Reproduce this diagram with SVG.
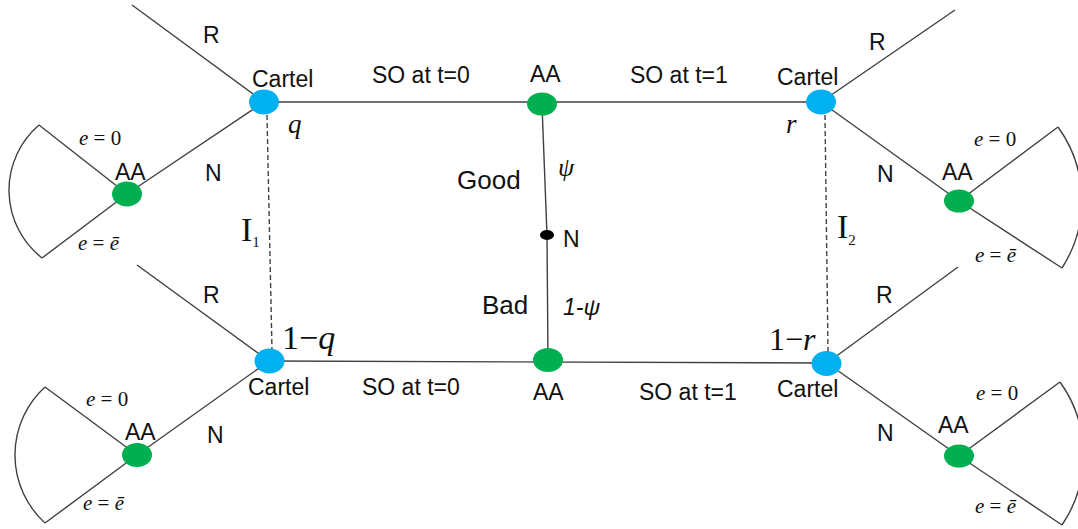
<svg xmlns="http://www.w3.org/2000/svg" width="1078" height="529" viewBox="0 0 1078 529">
<style>
.ln{stroke:#404040;stroke-width:1.4;fill:none}
.ds{stroke:#404040;stroke-width:1.4;fill:none;stroke-dasharray:5 3}
.cart{fill:#00B0F0}
.aa{fill:#00B050}
.t{font-family:"Liberation Sans",Arial,sans-serif;font-size:23px;fill:#111}
.big{font-family:"Liberation Sans",Arial,sans-serif;font-size:26px;fill:#111}
.m{font-family:"Liberation Serif","Times New Roman",serif;font-size:21px;fill:#111}
.mi{font-style:italic}
.prob{font-family:"Liberation Serif","Times New Roman",serif;font-size:34px;fill:#111}
.info{font-family:"Liberation Serif","Times New Roman",serif;font-size:34px;fill:#111}
.sub{font-size:15px}
</style>
<rect width="1078" height="529" fill="#fff"/>
<g id="connectors">
  <line class="ln" x1="264" y1="102" x2="821" y2="102"/>
  <line class="ln" x1="269" y1="361" x2="827" y2="363"/>
  <line class="ln" x1="542" y1="105" x2="547" y2="235"/>
  <line class="ln" x1="547" y1="235" x2="548" y2="360"/>
  <line class="ds" x1="267" y1="115" x2="272" y2="350"/>
  <line class="ds" x1="825" y1="115" x2="828" y2="352"/>
  <line class="ln" x1="132" y1="5" x2="264" y2="102"/>
  <line class="ln" x1="264" y1="102" x2="127" y2="194"/>
  <line class="ln" x1="127" y1="194" x2="39" y2="125"/>
  <line class="ln" x1="127" y1="194" x2="42" y2="258"/>
  <path class="ln" d="M39 125 A86 86 0 0 0 42 258"/>
  <line class="ln" x1="137" y1="265" x2="269" y2="361"/>
  <line class="ln" x1="269" y1="361" x2="137" y2="455"/>
  <line class="ln" x1="137" y1="455" x2="45" y2="387"/>
  <line class="ln" x1="137" y1="455" x2="45" y2="523"/>
  <path class="ln" d="M45 387 A92 92 0 0 0 45 523"/>
  <line class="ln" x1="955" y1="10" x2="821" y2="102"/>
  <line class="ln" x1="821" y1="102" x2="959" y2="201"/>
  <line class="ln" x1="959" y1="201" x2="1058" y2="127"/>
  <line class="ln" x1="959" y1="201" x2="1062" y2="268"/>
  <path class="ln" d="M1058 127 A125 125 0 0 1 1062 268"/>
  <line class="ln" x1="958" y1="267" x2="827" y2="363"/>
  <line class="ln" x1="827" y1="363" x2="959" y2="456"/>
  <line class="ln" x1="959" y1="456" x2="1060" y2="382"/>
  <line class="ln" x1="959" y1="456" x2="1062" y2="525"/>
  <path class="ln" d="M1060 382 A125 125 0 0 1 1062 525"/>
</g>
<g id="edge-labels">
  <text class="t" x="372" y="83">SO at t=0</text>
  <text class="t" x="630" y="83">SO at t=1</text>
  <text class="t" x="362" y="395">SO at t=0</text>
  <text class="t" x="639" y="400">SO at t=1</text>
  <text class="t" x="203" y="43">R</text>
  <text class="t" x="205" y="181">N</text>
  <text class="t" x="203" y="303">R</text>
  <text class="t" x="207" y="443">N</text>
  <text class="t" x="869" y="50">R</text>
  <text class="t" x="877" y="182">N</text>
  <text class="t" x="876" y="303">R</text>
  <text class="t" x="877" y="441">N</text>
  <text class="big" x="457" y="189">Good</text>
  <text class="big" x="482" y="314">Bad</text>
  <text class="m mi" x="558" y="176" style="font-size:26px">ψ</text>
  <text class="t mi" x="563" y="315">1-ψ</text>
  <text class="m" x="79" y="145"><tspan class="mi">e</tspan> = 0</text>
  <text class="m" x="78" y="250"><tspan class="mi">e</tspan> = <tspan class="mi">ē</tspan></text>
  <text class="m" x="86" y="406"><tspan class="mi">e</tspan> = 0</text>
  <text class="m" x="83" y="510"><tspan class="mi">e</tspan> = <tspan class="mi">ē</tspan></text>
  <text class="m" x="974" y="146"><tspan class="mi">e</tspan> = 0</text>
  <text class="m" x="975" y="262"><tspan class="mi">e</tspan> = <tspan class="mi">ē</tspan></text>
  <text class="m" x="976" y="400"><tspan class="mi">e</tspan> = 0</text>
  <text class="m" x="975" y="513"><tspan class="mi">e</tspan> = <tspan class="mi">ē</tspan></text>
  <text class="prob mi" x="288" y="133" style="font-size:27px">q</text>
  <text class="prob mi" x="786" y="133" style="font-size:27px">r</text>
  <text class="prob" x="282" y="349">1−<tspan class="mi">q</tspan></text>
  <text class="prob" x="769" y="350" style="font-size:32px">1−<tspan class="mi">r</tspan></text>
  <text class="info" x="241" y="241">I<tspan class="sub" dy="6">1</tspan></text>
  <text class="info" x="837" y="238">I<tspan class="sub" dy="7">2</tspan></text>
</g>
<g id="cartel-q">
  <ellipse class="cart" cx="264" cy="102" rx="15" ry="12.5"/>
  <text class="t" x="252" y="87">Cartel</text>
</g>
<g id="cartel-1q">
  <ellipse class="cart" cx="269.5" cy="361" rx="15" ry="12.5"/>
  <text class="t" x="248" y="395">Cartel</text>
</g>
<g id="cartel-r">
  <ellipse class="cart" cx="821" cy="102" rx="15" ry="12.5"/>
  <text class="t" x="777" y="85">Cartel</text>
</g>
<g id="cartel-1r">
  <ellipse class="cart" cx="826.5" cy="363.5" rx="15" ry="12.5"/>
  <text class="t" x="777" y="397">Cartel</text>
</g>
<g id="aa-top">
  <ellipse class="aa" cx="542" cy="104" rx="15" ry="11.5"/>
  <text class="t" x="530" y="82">AA</text>
</g>
<g id="aa-bottom">
  <ellipse class="aa" cx="548" cy="360" rx="15" ry="12"/>
  <text class="t" x="533" y="400">AA</text>
</g>
<g id="nature">
  <ellipse fill="#000" cx="547" cy="235" rx="7" ry="5"/>
  <text class="t" x="563" y="247">N</text>
</g>
<g id="aa-tl">
  <ellipse class="aa" cx="127" cy="194" rx="15" ry="12.5"/>
  <text class="t" x="115" y="180">AA</text>
</g>
<g id="aa-bl">
  <ellipse class="aa" cx="137" cy="455" rx="15" ry="12"/>
  <text class="t" x="125" y="440">AA</text>
</g>
<g id="aa-tr">
  <ellipse class="aa" cx="959" cy="201" rx="15" ry="11.5"/>
  <text class="t" x="942" y="180">AA</text>
</g>
<g id="aa-br">
  <ellipse class="aa" cx="959" cy="456" rx="15" ry="11.5"/>
  <text class="t" x="938" y="433">AA</text>
</g>
</svg>
